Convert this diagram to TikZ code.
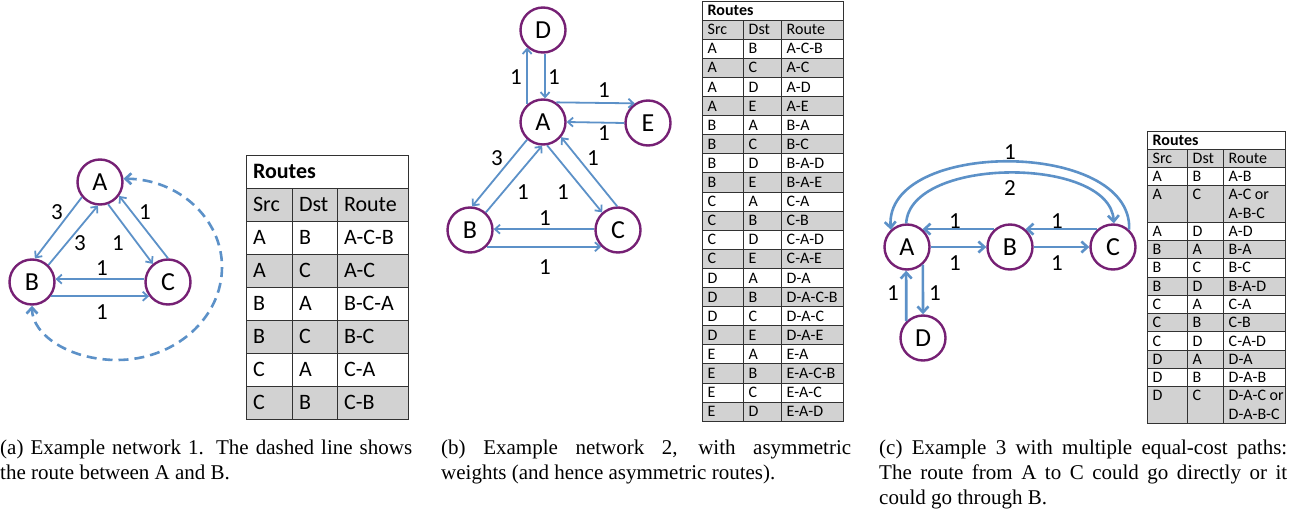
\documentclass[tikz,border=0pt]{standalone}
\usepackage{fontspec}
\setmainfont{Carlito}
\newfontfamily\capfont{Liberation Serif}
\usetikzlibrary{arrows.meta}

\definecolor{nodepurple}{RGB}{118,32,116}
\definecolor{edgeblue}{RGB}{92,145,200}
\definecolor{rowgray}{RGB}{210,210,210}
\definecolor{gridline}{RGB}{50,50,50}

\tikzset{
  netnode/.style={circle, draw=nodepurple, line width=2.4pt, fill=white,
    minimum size=45pt, inner sep=0pt, font=\fontsize{26}{30}\selectfont},
  link/.style={draw=edgeblue, line width=1.8pt, -{Straight Barb[length=5pt,width=9pt]}},
  thicklink/.style={draw=edgeblue, line width=2.6pt, -{Straight Barb[length=6pt,width=11pt]}},
  route/.style={draw=edgeblue, line width=2.6pt, dash pattern=on 10pt off 6pt,
    {Straight Barb[length=6pt,width=11pt]}-{Straight Barb[length=6pt,width=11pt]}},
  weight/.style={font=\fontsize{23}{27}\selectfont, inner sep=0pt},
  tabline/.style={draw=gridline, line width=0.9pt},
  cell/.style={anchor=base west, inner sep=0pt},
  caption/.style={anchor=base west, inner sep=0pt, font=\capfont\fontsize{21}{25}\selectfont},
}

% routing table: #1 name prefix, #2..#5 column edges, #6 top, #7 row height,
% #8 font size, #9 rows as src/dst/route/second route line/height in rows
\newcommand{\routetable}[9]{%
  \fill[white] (#2,#6) rectangle (#5,{#6+#7});
  \node[cell, font=\fontsize{#8}{#8}\selectfont\bfseries] (#1-title)
    at ({#2+2+0.22*#8},{#6+#7/2+0.32*#8}) {Routes};
  \fill[rowgray] (#2,{#6+#7}) rectangle (#5,{#6+2*#7});
  \draw[tabline] (#2,{#6+#7}) -- (#5,{#6+#7});
  \foreach \hpos/\hlabel/\hname in {#2/Src/src, #3/Dst/dst, #4/Route/route}
    \node[cell, font=\fontsize{#8}{#8}\selectfont] (#1-\hname)
      at ({\hpos+2+0.22*#8},{#6+1.5*#7+0.32*#8}) {\hlabel};
  \pgfmathsetmacro\rowtop{#6+2*#7}
  \foreach \csrc/\cdst/\crouteA/\crouteB/\cunits [count=\cidx] in {#9}{
    \pgfmathsetmacro\rowbot{\rowtop+\cunits*#7}
    \ifodd\cidx\relax\def\rowfill{white}\else\def\rowfill{rowgray}\fi
    \fill[\rowfill] (#2,\rowtop) rectangle (#5,\rowbot);
    \draw[tabline] (#2,\rowtop) -- (#5,\rowtop);
    \node[cell, font=\fontsize{#8}{#8}\selectfont] (#1-\cidx-s)
      at ({#2+2+0.22*#8},{\rowtop+#7/2+0.32*#8}) {\csrc};
    \node[cell, font=\fontsize{#8}{#8}\selectfont] (#1-\cidx-d)
      at ({#3+2+0.22*#8},{\rowtop+#7/2+0.32*#8}) {\cdst};
    \node[cell, font=\fontsize{#8}{#8}\selectfont] (#1-\cidx-r)
      at ({#4+2+0.22*#8},{\rowtop+#7/2+0.32*#8}) {\crouteA};
    \ifnum\cunits=2
      \node[cell, font=\fontsize{#8}{#8}\selectfont] (#1-\cidx-r2)
        at ({#4+2+0.22*#8},{\rowtop+1.5*#7+0.32*#8}) {\crouteB};
    \fi
    \global\let\rowtop\rowbot
  }
  \draw[tabline] (#3,{#6+#7}) -- (#3,\rowtop) (#4,{#6+#7}) -- (#4,\rowtop);
  \draw[tabline] (#2,#6) rectangle (#5,\rowtop);
}

\begin{document}
\begin{tikzpicture}[x=1pt, y=-1pt]
\fill[white] (0,0) rectangle (1292,514);
\useasboundingbox (0,0) rectangle (1292,514);

% ---------- network 1 ----------
\node[netnode] (aA) at (100,182) {A};
\node[netnode] (aB) at (32,282) {B};
\node[netnode] (aC) at (168,282) {C};
\draw[link] (aA.220) -- (aB.83);
\draw[link] (aB.46) -- (aA.265);
\draw[link] (aA.290) -- (aC.130);
\draw[link] (aC.90) -- (aA.-36);
\draw[link] (aC.173) -- (aB.7);
\draw[link] (aB.-37) -- (aC.217);
\node[weight] (aw1) at (57,212) {3};
\node[weight] (aw2) at (80,243) {3};
\node[weight] (aw3) at (118,243) {1};
\node[weight] (aw4) at (145,212) {1};
\node[weight] (aw5) at (102,268) {1};
\node[weight] (aw6) at (102,312) {1};
\draw[route] (aA.8) .. controls (179,179) and (222,219) .. (222,267)
  .. controls (222,318) and (175,360) .. (117,360)
  .. controls (70,360) and (32,335) .. (aB.-90);

\routetable{ta}{246}{292}{337}{408}{155}{33}{22}{%
  A/B/A-C-B/{}/1, A/C/A-C/{}/1, B/A/B-C-A/{}/1,
  B/C/B-C/{}/1, C/A/C-A/{}/1, C/B/C-B/{}/1}

% ---------- network 2 ----------
\node[netnode] (bD) at (543,30) {D};
\node[netnode] (bA) at (543,122) {A};
\node[netnode] (bE) at (648,123) {E};
\node[netnode] (bB) at (470,230) {B};
\node[netnode] (bC) at (618,230) {C};
\draw[link] (bA.132) -- (bD.228);
\draw[link] (bD.-85) -- (bA.85);
\draw[link] (bA.56) -- (bE.124);
\draw[link] (bE.180) -- (bA.0);
\draw[link] (bA.228) -- (bB.85);
\draw[link] (bB.48) -- (bA.268);
\draw[link] (bA.-80) -- (bC.132);
\draw[link] (bC.92) -- (bA.-40);
\draw[link] (bC.178) -- (bB.2);
\draw[link] (bB.-45) -- (bC.225);
\node[weight] (bw1) at (516,77) {1};
\node[weight] (bw2) at (554,77) {1};
\node[weight] (bw3) at (604,90) {1};
\node[weight] (bw4) at (604,133) {1};
\node[weight] (bw5) at (497,158) {3};
\node[weight] (bw6) at (593,158) {1};
\node[weight] (bw7) at (523,192) {1};
\node[weight] (bw8) at (563,192) {1};
\node[weight] (bw9) at (545,218) {1};
\node[weight] (bw10) at (545,267) {1};

\routetable{tb}{702}{743}{781}{843}{1}{19.1}{16}{%
  A/B/A-C-B/{}/1, A/C/A-C/{}/1, A/D/A-D/{}/1, A/E/A-E/{}/1,
  B/A/B-A/{}/1, B/C/B-C/{}/1, B/D/B-A-D/{}/1, B/E/B-A-E/{}/1,
  C/A/C-A/{}/1, C/B/C-B/{}/1, C/D/C-A-D/{}/1, C/E/C-A-E/{}/1,
  D/A/D-A/{}/1, D/B/D-A-C-B/{}/1, D/C/D-A-C/{}/1, D/E/D-A-E/{}/1,
  E/A/E-A/{}/1, E/B/E-A-C-B/{}/1, E/C/E-A-C/{}/1, E/D/E-A-D/{}/1}

% ---------- network 3 ----------
\node[netnode] (cA) at (907,247) {A};
\node[netnode] (cB) at (1010,247) {B};
\node[netnode] (cC) at (1113,247) {C};
\node[netnode] (cD) at (923,338) {D};
\draw[thicklink] (cB.131) -- (cA.49);
\draw[thicklink] (cA.0) -- (cB.180);
\draw[thicklink] (cC.131) -- (cB.49);
\draw[thicklink] (cB.0) -- (cC.180);
\draw[thicklink] (cD.135) -- (cA.268);
\draw[thicklink] (cA.-48) -- (cD.90);
\draw[thicklink] (cC.47) .. controls (1133,139) and (884,139) .. (cA.133);
\draw[thicklink] (cA.92) .. controls (910,156) and (1110,156) .. (cC.88);
\node[weight] (cw1) at (955,221) {1};
\node[weight] (cw2) at (1057,221) {1};
\node[weight] (cw3) at (955,263) {1};
\node[weight] (cw4) at (1057,263) {1};
\node[weight] (cw5) at (893,293) {1};
\node[weight] (cw6) at (935,293) {1};
\node[weight] (cw7) at (1010,152) {1};
\node[weight] (cw8) at (1010,188) {2};

\routetable{tc}{1147}{1187}{1223}{1285}{131}{18.25}{16}{%
  A/B/A-B/{}/1, A/C/A-C or/A-B-C/2, A/D/A-D/{}/1, B/A/B-A/{}/1,
  B/C/B-C/{}/1, B/D/B-A-D/{}/1, C/A/C-A/{}/1, C/B/C-B/{}/1,
  C/D/C-A-D/{}/1, D/A/D-A/{}/1, D/B/D-A-B/{}/1, D/C/D-A-C or/D-A-B-C/2}

% ---------- captions ----------
\node[caption] (capa) at (0,454) {\parbox[t]{412pt}{(a) Example network 1. The dashed line shows\linebreak the route between A and B.}};
\node[caption] (capb) at (441,454) {\parbox[t]{410pt}{(b) Example network 2, with asymmetric\linebreak weights (and hence asymmetric routes).}};
\node[caption] (capc) at (879,454) {\parbox[t]{408pt}{(c) Example 3 with multiple equal-cost paths:\linebreak The route from A to C could go directly or it\linebreak could go through B.}};
\end{tikzpicture}
\end{document}
